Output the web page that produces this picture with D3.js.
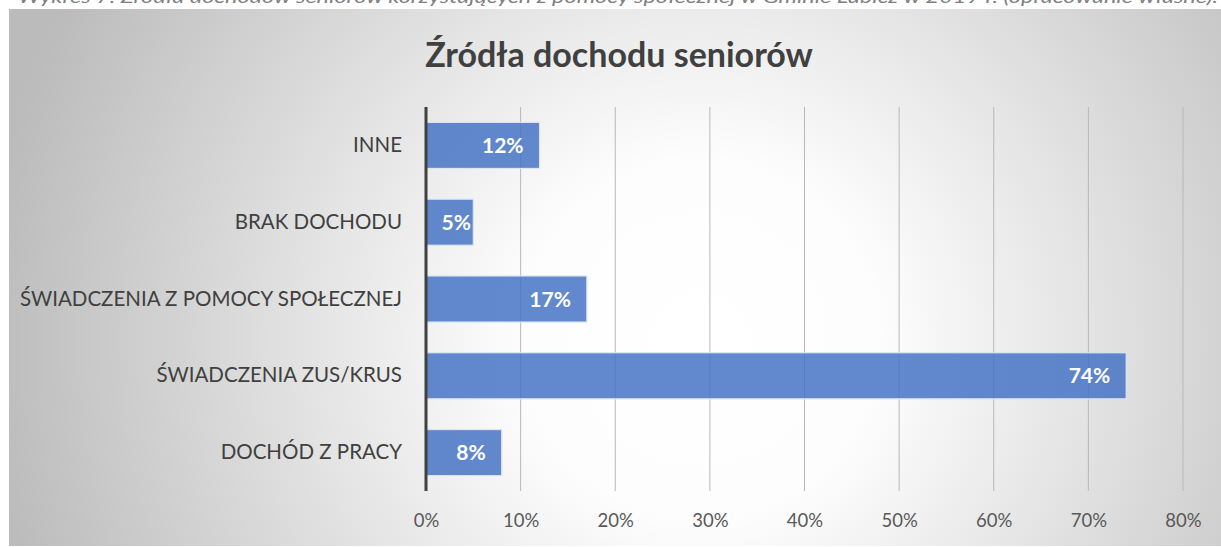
<!DOCTYPE html>
<html>
<head>
<meta charset="utf-8">
<script src="https://cdn.jsdelivr.net/npm/d3@7"></script>
<style>
  body { margin: 0; background: #fff; }
  text { font-family: Lato, "Open Sans", sans-serif; }
</style>
</head>
<body>
<div id="chart"></div>
<script>
// data
var categories = ["INNE", "BRAK DOCHODU", "ŚWIADCZENIA Z POMOCY SPOŁECZNEJ", "ŚWIADCZENIA ZUS/KRUS", "DOCHÓD Z PRACY"];
var values = [12, 5, 17, 74, 8];
var ticks = [0, 10, 20, 30, 40, 50, 60, 70, 80];
var title = "Źródła dochodu seniorów";
var caption = "Wykres 7. Źródła dochodów seniorów korzystających z pomocy społecznej w Gminie Łubicz w 2019 r. (opracowanie własne).";

var W = 1221, H = 547;
var margin = {top: 107, right: 38, bottom: 56, left: 426},
    height = H - margin.top - margin.bottom;

var svg = d3.select("#chart")
  .append("svg")
    .attr("width", W)
    .attr("height", H);

// background gradient like the Excel chart area
var grad = svg.append("defs").append("radialGradient")
    .attr("id", "bg")
    .attr("gradientUnits", "userSpaceOnUse")
    .attr("cx", 700).attr("cy", 340).attr("r", 720);
grad.append("stop").attr("offset", "0").attr("stop-color", "#ffffff");
grad.append("stop").attr("offset", "0.25").attr("stop-color", "#fdfdfd");
grad.append("stop").attr("offset", "1").attr("stop-color", "#bbbbbb");

svg.append("rect")
    .attr("x", 9).attr("y", 9)
    .attr("width", W - 9).attr("height", H - 10)
    .attr("fill", "url(#bg)");

// caption from the document above the chart (cut by the top edge, as in the source)
svg.append("text")
    .attr("x", 18).attr("y", 3)
    .attr("textLength", 1200)
    .attr("lengthAdjust", "spacingAndGlyphs")
    .style("font-style", "italic")
    .style("font-size", "18px")
    .style("fill", "#7f7f7f")
    .text(caption);

svg.append("text")
    .attr("x", 619).attr("y", 67)
    .attr("text-anchor", "middle")
    .style("font-size", "34px")
    .style("font-weight", "bold")
    .style("fill", "#404040")
    .text(title);

var g = svg.append("g")
    .attr("transform", "translate(" + margin.left + "," + margin.top + ")");

var x = d3.scaleLinear()
  .domain([0, 80])
  .range([0, 757]);

var y = d3.scaleBand()
  .domain(categories)
  .range([0, height])
  .paddingInner(0.4)
  .paddingOuter(0.2);

// gridlines
g.append("g")
  .selectAll("line")
  .data(ticks.slice(1))
  .enter()
  .append("line")
    .attr("x1", function (d) { return x(d); })
    .attr("x2", function (d) { return x(d); })
    .attr("y1", 0)
    .attr("y2", height)
    .style("stroke", "#b8b8b8")
    .style("stroke-width", 1);

// tick labels
var xAxis = g.append("g")
    .attr("transform", "translate(0," + height + ")")
    .call(d3.axisBottom(x).tickValues(ticks).tickSize(0).tickPadding(23).tickFormat(function (d) { return d + "%"; }));
xAxis.select(".domain").remove();
xAxis.selectAll("text")
    .style("font-family", "Lato, 'Open Sans', sans-serif")
    .style("font-size", "18.5px")
    .style("fill", "#595959");

// bars
var rows = categories.map(function (c, i) { return {cat: c, val: values[i]}; });

g.append("g")
  .selectAll("rect")
  .data(rows)
  .enter()
  .append("rect")
    .attr("x", 0)
    .attr("y", function (d) { return y(d.cat); })
    .attr("width", function (d) { return x(d.val); })
    .attr("height", y.bandwidth())
    .style("fill", "#4472c4")
    .style("fill-opacity", 0.84)
    .style("stroke", "#dde5f3")
    .style("stroke-width", 1.2);

// value labels, inside end
g.append("g")
  .selectAll("text")
  .data(rows)
  .enter()
  .append("text")
    .attr("x", function (d) { return Math.max(x(d.val) - 16, 45); })
    .attr("y", function (d) { return y(d.cat) + y.bandwidth() / 2; })
    .attr("dy", "0.36em")
    .attr("text-anchor", "end")
    .style("font-size", "21px")
    .style("font-weight", "bold")
    .style("fill", "#ffffff")
    .text(function (d) { return d.val + "%"; });

// category labels
var yAxis = g.append("g")
    .call(d3.axisLeft(y).tickSize(0).tickPadding(24));
yAxis.select(".domain").remove();
yAxis.selectAll("text")
    .style("font-family", "Lato, 'Open Sans', sans-serif")
    .style("font-size", "20.5px")
    .style("fill", "#404040");

// vertical axis line
g.append("line")
    .attr("x1", 0).attr("x2", 0)
    .attr("y1", 0).attr("y2", height)
    .style("stroke", "#404040")
    .style("stroke-width", 3);
</script>
</body>
</html>
